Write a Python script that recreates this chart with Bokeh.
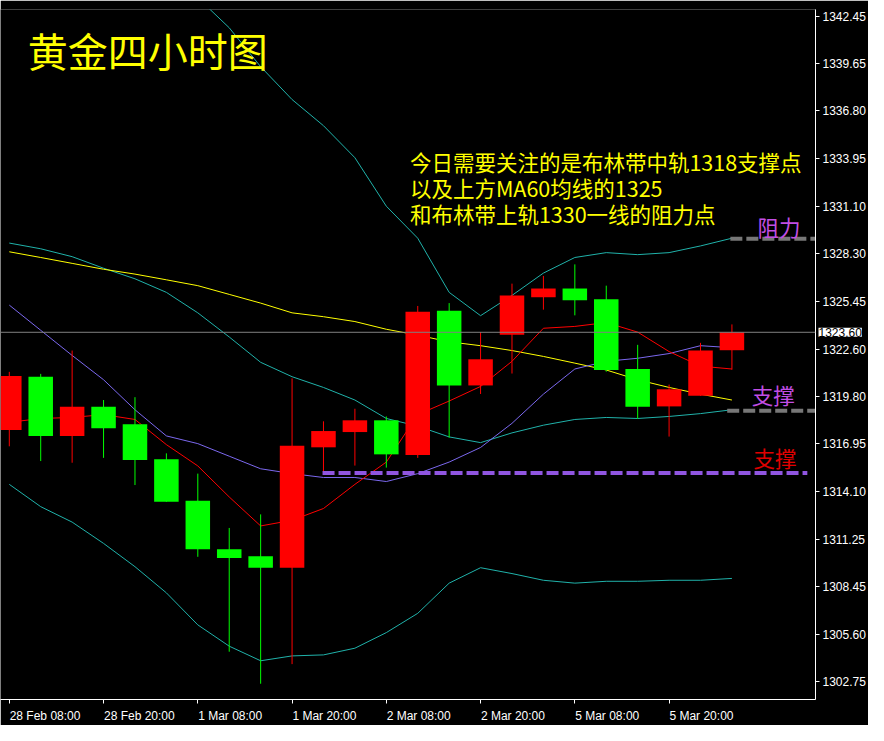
from bokeh.plotting import figure
from bokeh.models import ColumnDataSource, FixedTicker, PrintfTickFormatter, Span, Label
from bokeh.embed import file_html
from bokeh.resources import INLINE

# ---- data (4-hour candles, XAUUSD) ----
time_labels = ["28 Feb 08:00", "28 Feb 20:00", "1 Mar 08:00", "1 Mar 20:00",
               "2 Mar 08:00", "2 Mar 20:00", "5 Mar 08:00", "5 Mar 20:00"]
time_label_idx = [0, 3, 6, 9, 12, 15, 18, 21]

opens = [1317.77, 1320.95, 1317.42, 1319.16, 1318.11, 1316.03, 1313.55, 1310.66,
         1310.25, 1309.56, 1316.74, 1317.65, 1318.35, 1316.28, 1324.88, 1320.43,
         1323.45, 1325.69, 1326.21, 1325.57, 1321.41, 1319.18, 1319.81, 1322.53]
closes = [1321.00, 1317.42, 1319.16, 1317.88, 1315.98, 1313.49, 1310.66, 1310.14,
          1309.56, 1316.84, 1317.71, 1318.35, 1316.32, 1324.82, 1320.43, 1321.99,
          1325.80, 1326.21, 1325.51, 1321.35, 1319.16, 1320.20, 1322.51, 1323.60]
highs = [1321.24, 1321.12, 1322.51, 1319.56, 1319.73, 1316.38, 1315.17, 1311.93,
         1312.74, 1320.85, 1318.29, 1319.04, 1318.58, 1325.17, 1325.34, 1323.61,
         1326.50, 1326.96, 1327.65, 1326.38, 1322.85, 1320.48, 1322.97, 1324.07]
lows = [1316.80, 1315.92, 1315.82, 1316.11, 1314.49, 1313.49, 1310.21, 1304.55,
        1302.64, 1303.81, 1315.11, 1315.65, 1315.53, 1316.11, 1317.32, 1319.92,
        1321.14, 1324.95, 1324.61, 1321.25, 1318.44, 1317.38, 1319.81, 1321.37]

nan = float("nan")
boll_upper = [nan, nan, nan, nan, nan, nan, 1343.55, 1341.76, 1339.44, 1337.48,
              1335.92, 1334.01, 1331.12, 1329.21, 1325.98, 1324.59, 1325.80, 1327.13,
              1328.06, 1328.35, 1328.23, 1328.35, 1328.75, 1329.21]
boll_mid = [1328.92, 1328.58, 1328.11, 1327.42, 1326.79, 1325.98, 1324.76, 1323.32,
            1321.81, 1320.95, 1320.31, 1319.56, 1318.46, 1318.00, 1317.36, 1317.02,
            1317.60, 1318.06, 1318.40, 1318.52, 1318.46, 1318.58, 1318.75, 1318.98]
boll_lower = [1314.53, 1313.20, 1312.28, 1311.01, 1309.62, 1308.06, 1306.15, 1304.88,
              1304.01, 1304.30, 1304.36, 1304.76, 1305.69, 1306.84, 1308.64, 1309.56,
              1309.21, 1308.81, 1308.64, 1308.75, 1308.75, 1308.81, 1308.81, 1308.92]
ma60 = [1328.40, 1328.06, 1327.71, 1327.36, 1327.07, 1326.73, 1326.38, 1325.86,
        1325.34, 1324.76, 1324.53, 1324.24, 1323.78, 1323.43, 1323.03, 1322.80,
        1322.51, 1322.16, 1321.76, 1321.35, 1320.77, 1320.31, 1319.91, 1319.56]
ma_blue = [1325.22, 1323.72, 1322.22, 1320.77, 1318.98, 1317.42, 1316.96, 1316.21,
           1315.46, 1315.17, 1314.94, 1314.94, 1314.70, 1315.17, 1315.86, 1316.73,
           1318.17, 1319.91, 1321.41, 1321.87, 1322.05, 1322.33, 1322.80, 1322.68]
ma_red = [1318.23, 1318.46, 1318.52, 1318.69, 1318.40, 1316.90, 1315.63, 1313.78,
          1312.05, 1312.39, 1313.09, 1314.53, 1315.86, 1318.69, 1319.50, 1320.37,
          1321.87, 1323.84, 1323.95, 1324.18, 1323.61, 1322.45, 1321.58, 1321.41]

y_ticks = [1342.45, 1339.65, 1336.80, 1333.95, 1331.10, 1328.30, 1325.45, 1322.60,
           1319.80, 1316.95, 1314.10, 1311.25, 1308.45, 1305.60, 1302.75]

current_price = 1323.60
resistance_level = 1329.18
support_level_gray = 1318.92
support_level_purple = 1315.21

title_text = "黄金四小时图"
note_lines = ["今日需要关注的是布林带中轨1318支撑点",
              "以及上方MA60均线的1325",
              "和布林带上轨1330一线的阻力点"]

# ---- figure ----
xs = list(range(len(opens)))
up = [c >= o for o, c in zip(opens, closes)]
colors = ["#ff0000" if u else "#00ff00" for u in up]
src = ColumnDataSource(dict(
    x=xs, high=highs, low=lows,
    top=[max(o, c) for o, c in zip(opens, closes)],
    bottom=[min(o, c) for o, c in zip(opens, closes)],
    color=colors,
))

X0, X1 = -0.28, 25.66
p = figure(width=868, height=725, x_range=(X0, X1), y_range=(1301.70, 1342.85),
           y_axis_location="right", output_backend="svg", toolbar_location=None,
           background_fill_color="black", border_fill_color="black",
           min_border_left=0, min_border_top=0, min_border_right=0, min_border_bottom=0,
           outline_line_color=None)
p.grid.visible = False

# x axis: tick marks at the bar times (minor ticks), labels start at the tick
# (label anchor shifted right by half the label width)
px_per_unit = 31.1
char_w = {" ": 3.3, ":": 3.3, "F": 7.3, "e": 6.7, "b": 6.7, "M": 10.0, "a": 6.7, "r": 4.0}
label_pos = []
for i, t in zip(time_label_idx, time_labels):
    w = sum(char_w.get(ch, 6.7) for ch in t)
    label_pos.append(round(i + w / 2 / px_per_unit, 4))
xa = p.xaxis[0]
xa.ticker = FixedTicker(ticks=label_pos, minor_ticks=time_label_idx)
xa.major_label_overrides = {pos: t for pos, t in zip(label_pos, time_labels)}
xa.major_tick_line_color = None
xa.minor_tick_line_color = "white"
xa.minor_tick_out = 4
xa.minor_tick_in = 0
xa.major_label_text_font_size = "12px"

ya = p.yaxis[0]
ya.ticker = FixedTicker(ticks=y_ticks)
ya.formatter = PrintfTickFormatter(format="%.2f")
ya.major_tick_line_color = "white"
ya.major_tick_out = 4
ya.major_tick_in = 0
ya.minor_tick_line_color = None
ya.major_label_text_font_size = "12px"
for ax in (xa, ya):
    ax.axis_line_color = "white"
    ax.major_label_text_color = "white"
    ax.major_label_text_font = "Liberation Sans"
    ax.major_label_standoff = 3

# indicator lines (behind candles)
band_col = "#20b2aa"
p.line(xs, boll_upper, line_color=band_col, line_width=1)
p.line(xs, boll_mid, line_color=band_col, line_width=1)
p.line(xs, boll_lower, line_color=band_col, line_width=1)
p.line(xs, ma60, line_color="#ffff00", line_width=1)
p.line(xs, ma_blue, line_color="#7b68ee", line_width=1)
p.line(xs, ma_red, line_color="#ff0000", line_width=1)

# current price line
p.add_layout(Span(location=current_price, dimension="width", line_color="#808080", line_width=1))

# candles
p.segment(x0="x", y0="low", x1="x", y1="high", line_color="color", line_width=1, source=src)
p.vbar(x="x", width=0.78, top="top", bottom="bottom", fill_color="color", line_color=None, source=src)

# support / resistance levels
p.line([22.95, X1], [resistance_level] * 2, line_color="#777777", line_width=4, line_dash="12 4")
p.line([22.85, X1], [support_level_gray] * 2, line_color="#777777", line_width=4, line_dash="12 4")
p.line([9.97, 25.4], [support_level_purple] * 2, line_color="#9055e0", line_width=4, line_dash="12 4")

cjk = "Noto Sans CJK SC"
p.add_layout(Label(x=0.59, y=1340.43, text=title_text, text_color="#ffff00",
                   text_font=cjk, text_font_size="40px", text_baseline="middle", text_align="left"))
for txt, yy in zip(note_lines, [1333.78, 1332.22, 1330.66]):
    p.add_layout(Label(x=12.75, y=yy, text=txt, text_color="#ffff00",
                       text_font=cjk, text_font_size="21.5px", text_baseline="middle", text_align="left"))
p.add_layout(Label(x=23.81, y=1329.91, text="阻力", text_color="#c24ee4",
                   text_font=cjk, text_font_size="21.5px", text_baseline="middle", text_align="left"))
p.add_layout(Label(x=23.63, y=1319.91, text="支撑", text_color="#c24ee4",
                   text_font=cjk, text_font_size="21.5px", text_baseline="middle", text_align="left"))
p.add_layout(Label(x=23.69, y=1316.15, text="支撑", text_color="#e00000",
                   text_font=cjk, text_font_size="21.5px", text_baseline="middle", text_align="left"))

# current price tag on the price axis (in a side panel so it is not clipped to the frame;
# it is still positioned through the plot's own x/y scales)
p.add_layout(Label(x=X1, y=current_price, x_offset=3, text="%.2f" % current_price, text_color="black",
                   text_font="Liberation Sans", text_font_size="12px", text_baseline="middle",
                   text_align="left", background_fill_color="white", level="overlay"), "above")

open("out.html", "w").write(file_html(p, INLINE))
